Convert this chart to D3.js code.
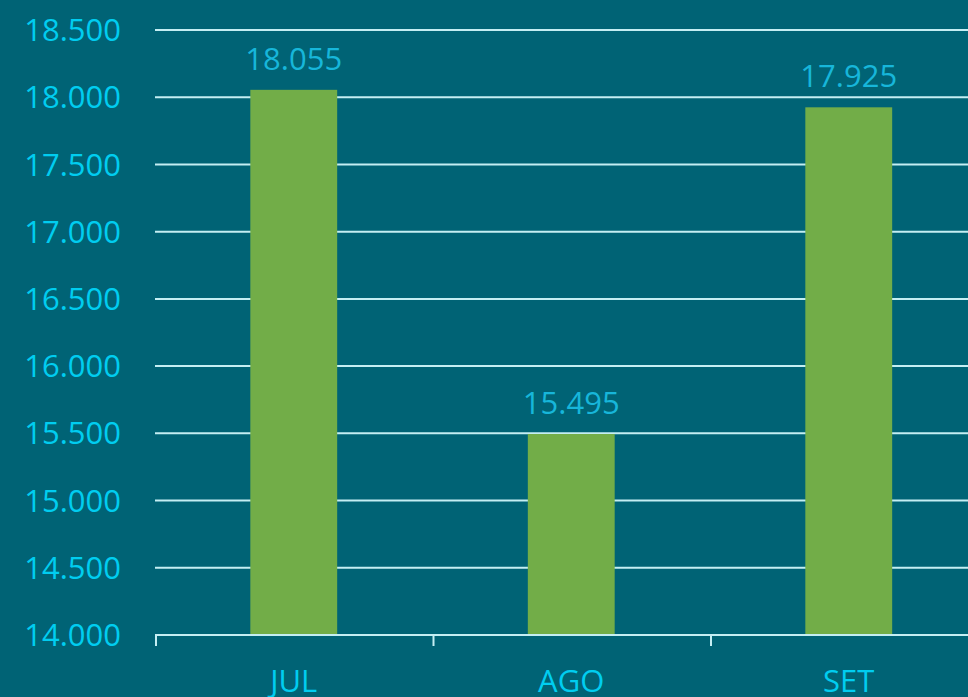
<!DOCTYPE html>
<html>
<head>
<meta charset="utf-8">
<script src="https://cdn.jsdelivr.net/npm/d3@7"></script>
<style>
  html, body { margin: 0; padding: 0; background: #006375; overflow: hidden; }
  text { font-family: "Open Sans", "Noto Sans", sans-serif; font-weight: 400; }
  .tickLabel { fill: #00cdf0; font-size: 31px; }
  .valueLabel { fill: #17b6da; font-size: 31px; }
  .gridLine { stroke: #c4eef3; stroke-width: 2; }
</style>
</head>
<body>
<div id="chart"></div>
<script>
var months = ["JUL", "AGO", "SET"];
var values = [18055, 15495, 17925];
var yTicks = [14000, 14500, 15000, 15500, 16000, 16500, 17000, 17500, 18000, 18500];

var width = 968, height = 697;
var left = 155, step = 277.5;

var svg = d3.select("#chart").append("svg")
	.attr("width", width)
	.attr("height", height)
	.style("display", "block");

svg.append("rect")
	.attr("width", width)
	.attr("height", height)
	.attr("fill", "#006375");

//band scale for the months, ticks sit on band edges
var x = d3.scaleBand()
	.domain(months)
	.range([left, left + step * months.length])
	.padding(0);

var y = d3.scaleLinear()
	.domain([14000, 18500])
	.range([635, 30]);

var fmt = function(d) { return d3.format(",")(d).replace(/,/g, "."); };

//gridlines
svg.selectAll(".gridLine")
	.data(yTicks)
	.enter().append("line")
	.attr("class", "gridLine")
	.attr("x1", left)
	.attr("x2", width)
	.attr("y1", function(d) { return y(d); })
	.attr("y2", function(d) { return y(d); });

//y labels
svg.selectAll(".yLabel")
	.data(yTicks)
	.enter().append("text")
	.attr("class", "tickLabel")
	.attr("x", 121)
	.attr("y", function(d) { return y(d); })
	.attr("dy", "0.36em")
	.attr("text-anchor", "end")
	.text(fmt);

//bars
var barW = x.bandwidth() * 0.313;
svg.selectAll(".bar")
	.data(values)
	.enter().append("rect")
	.attr("class", "bar")
	.attr("x", function(d, i) { return x(months[i]) + (x.bandwidth() - barW) / 2; })
	.attr("width", barW)
	.attr("y", function(d) { return y(d); })
	.attr("height", function(d) { return y(14000) - y(d); })
	.attr("fill", "#72ad48");

//value labels
svg.selectAll(".valueLabel")
	.data(values)
	.enter().append("text")
	.attr("class", "valueLabel")
	.attr("x", function(d, i) { return x(months[i]) + x.bandwidth() / 2; })
	.attr("y", function(d) { return y(d) - 20; })
	.attr("text-anchor", "middle")
	.text(fmt);

//x axis line and ticks on band edges
svg.append("line")
	.attr("class", "gridLine")
	.attr("x1", left)
	.attr("x2", width)
	.attr("y1", y(14000))
	.attr("y2", y(14000));

svg.selectAll(".xTick")
	.data(months)
	.enter().append("line")
	.attr("class", "gridLine")
	.attr("x1", function(d) { return x(d) + 1; })
	.attr("x2", function(d) { return x(d) + 1; })
	.attr("y1", y(14000))
	.attr("y2", y(14000) + 11);

svg.selectAll(".xLabel")
	.data(months)
	.enter().append("text")
	.attr("class", "tickLabel")
	.attr("x", function(d) { return x(d) + x.bandwidth() / 2; })
	.attr("y", 692)
	.attr("text-anchor", "middle")
	.text(function(d) { return d; });
</script>
</body>
</html>
